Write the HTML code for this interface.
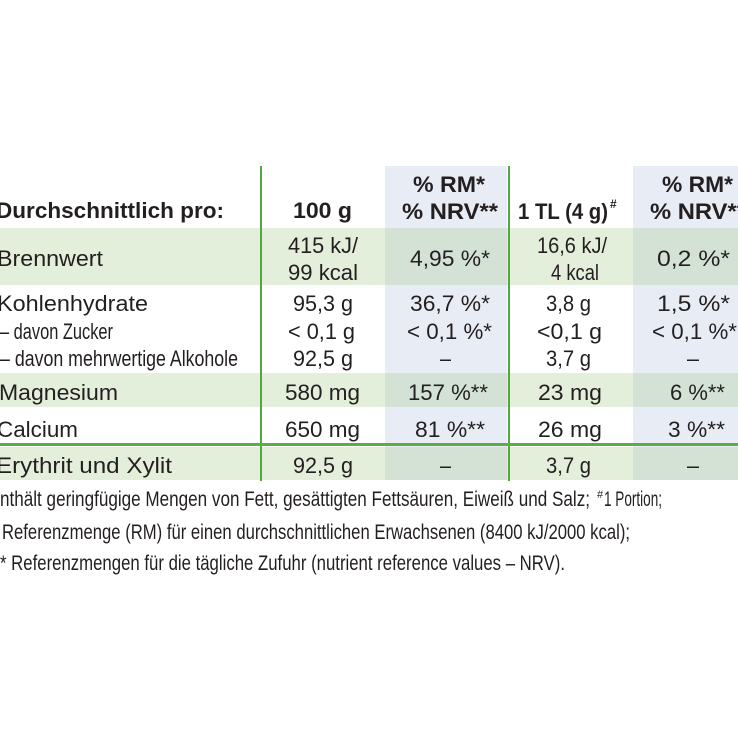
<!DOCTYPE html>
<html>
<head>
<meta charset="utf-8">
<style>
  html,body{margin:0;padding:0;background:#ffffff;}
  svg{display:block;}
  text{font-family:"Liberation Sans",sans-serif;}
</style>
</head>
<body>
<svg width="738" height="738" viewBox="0 0 738 738" xmlns="http://www.w3.org/2000/svg">
  <rect x="0" y="0" width="738" height="738" fill="#ffffff"/>
  <!-- blue columns -->
  <rect x="385" y="166" width="122" height="314" fill="#e8ecf4"/>
  <rect x="633" y="166" width="105" height="314" fill="#e8ecf4"/>
  <!-- green bands -->
  <rect x="0" y="228" width="738" height="57" fill="#e3eedb"/>
  <rect x="0" y="373" width="738" height="34" fill="#e3eedb"/>
  <rect x="0" y="447" width="738" height="33" fill="#e3eedb"/>
  <!-- intersections -->
  <rect x="385" y="228" width="122" height="57" fill="#d4e2d6"/>
  <rect x="633" y="228" width="105" height="57" fill="#d4e2d6"/>
  <rect x="385" y="373" width="122" height="34" fill="#d4e2d6"/>
  <rect x="633" y="373" width="105" height="34" fill="#d4e2d6"/>
  <rect x="385" y="447" width="122" height="33" fill="#d4e2d6"/>
  <rect x="633" y="447" width="105" height="33" fill="#d4e2d6"/>
  <!-- green lines -->
  <rect x="260" y="166" width="2" height="315" fill="#52a83f"/>
  <rect x="508" y="166" width="2" height="315" fill="#52a83f"/>
  <rect x="0" y="443" width="738" height="3" fill="#5aae45"/>

  <g fill="#231f20" font-size="22">
    <!-- header -->
    <g font-weight="bold">
      <text x="-4" y="218" textLength="228" lengthAdjust="spacingAndGlyphs">Durchschnittlich pro:</text>
      <text x="293" y="218" textLength="59" lengthAdjust="spacingAndGlyphs">100 g</text>
      <text x="413" y="192" textLength="72" lengthAdjust="spacingAndGlyphs">% RM*</text>
      <text x="402" y="219" textLength="96" lengthAdjust="spacingAndGlyphs">% NRV**</text>
      <text x="518" y="219" textLength="90" lengthAdjust="spacingAndGlyphs">1 TL (4 g)</text>
      <text x="610" y="208" font-size="12">#</text>
      <text x="662" y="192" textLength="71" lengthAdjust="spacingAndGlyphs">% RM*</text>
      <text x="650" y="219" textLength="96" lengthAdjust="spacingAndGlyphs">% NRV**</text>
    </g>

    <!-- Brennwert -->
    <text x="-3" y="266" textLength="106" lengthAdjust="spacingAndGlyphs">Brennwert</text>
    <text x="288" y="253" textLength="70" lengthAdjust="spacingAndGlyphs">415 kJ/</text>
    <text x="288" y="280" textLength="70" lengthAdjust="spacingAndGlyphs">99 kcal</text>
    <text x="410" y="266" textLength="80" lengthAdjust="spacingAndGlyphs">4,95 %*</text>
    <text x="537" y="253" textLength="70" lengthAdjust="spacingAndGlyphs">16,6 kJ/</text>
    <text x="551" y="280" textLength="48" lengthAdjust="spacingAndGlyphs">4 kcal</text>
    <text x="657" y="266" textLength="73" lengthAdjust="spacingAndGlyphs">0,2 %*</text>

    <!-- Kohlenhydrate -->
    <text x="-3" y="311" textLength="151" lengthAdjust="spacingAndGlyphs">Kohlenhydrate</text>
    <text x="0" y="339" textLength="113" lengthAdjust="spacingAndGlyphs">– davon Zucker</text>
    <text x="0" y="366" textLength="238" lengthAdjust="spacingAndGlyphs">– davon mehrwertige Alkohole</text>
    <text x="293" y="311" textLength="60" lengthAdjust="spacingAndGlyphs">95,3 g</text>
    <text x="288" y="339" textLength="67" lengthAdjust="spacingAndGlyphs">&lt; 0,1 g</text>
    <text x="293" y="366" textLength="60" lengthAdjust="spacingAndGlyphs">92,5 g</text>
    <text x="410" y="311" textLength="80" lengthAdjust="spacingAndGlyphs">36,7 %*</text>
    <text x="407" y="339" textLength="85" lengthAdjust="spacingAndGlyphs">&lt; 0,1 %*</text>
    <text x="440" y="366" textLength="11" lengthAdjust="spacingAndGlyphs">–</text>
    <text x="546" y="311" textLength="45" lengthAdjust="spacingAndGlyphs">3,8 g</text>
    <text x="537" y="339" textLength="65" lengthAdjust="spacingAndGlyphs">&lt;0,1 g</text>
    <text x="546" y="366" textLength="45" lengthAdjust="spacingAndGlyphs">3,7 g</text>
    <text x="657" y="311" textLength="73" lengthAdjust="spacingAndGlyphs">1,5 %*</text>
    <text x="652" y="339" textLength="85" lengthAdjust="spacingAndGlyphs">&lt; 0,1 %*</text>
    <text x="687" y="366" textLength="12" lengthAdjust="spacingAndGlyphs">–</text>

    <!-- Magnesium -->
    <text x="-1" y="400" textLength="119" lengthAdjust="spacingAndGlyphs">Magnesium</text>
    <text x="285" y="400" textLength="75" lengthAdjust="spacingAndGlyphs">580 mg</text>
    <text x="408" y="400" textLength="80" lengthAdjust="spacingAndGlyphs">157 %**</text>
    <text x="538" y="400" textLength="64" lengthAdjust="spacingAndGlyphs">23 mg</text>
    <text x="670" y="400" textLength="55" lengthAdjust="spacingAndGlyphs">6 %**</text>

    <!-- Calcium -->
    <text x="-3" y="437" textLength="81" lengthAdjust="spacingAndGlyphs">Calcium</text>
    <text x="285" y="437" textLength="75" lengthAdjust="spacingAndGlyphs">650 mg</text>
    <text x="415" y="437" textLength="70" lengthAdjust="spacingAndGlyphs">81 %**</text>
    <text x="538" y="437" textLength="64" lengthAdjust="spacingAndGlyphs">26 mg</text>
    <text x="668" y="437" textLength="57" lengthAdjust="spacingAndGlyphs">3 %**</text>

    <!-- Erythrit -->
    <text x="-4" y="473" textLength="176" lengthAdjust="spacingAndGlyphs">Erythrit und Xylit</text>
    <text x="293" y="473" textLength="60" lengthAdjust="spacingAndGlyphs">92,5 g</text>
    <text x="440" y="473" textLength="11" lengthAdjust="spacingAndGlyphs">–</text>
    <text x="546" y="473" textLength="45" lengthAdjust="spacingAndGlyphs">3,7 g</text>
    <text x="687" y="473" textLength="12" lengthAdjust="spacingAndGlyphs">–</text>
  </g>

  <!-- footnotes -->
  <g fill="#231f20" font-size="21">
    <text x="0" y="506" textLength="590" lengthAdjust="spacingAndGlyphs">nthält geringfügige Mengen von Fett, gesättigten Fettsäuren, Eiweiß und Salz;</text>
    <text x="597" y="498" font-size="11">#</text>
    <text x="604" y="506" textLength="58" lengthAdjust="spacingAndGlyphs">1 Portion;</text>
    <text x="2" y="539" textLength="628" lengthAdjust="spacingAndGlyphs">Referenzmenge (RM) für einen durchschnittlichen Erwachsenen (8400 kJ/2000 kcal);</text>
    <text x="0" y="570" textLength="565" lengthAdjust="spacingAndGlyphs">* Referenzmengen für die tägliche Zufuhr (nutrient reference values – NRV).</text>
  </g>
</svg>
</body>
</html>
